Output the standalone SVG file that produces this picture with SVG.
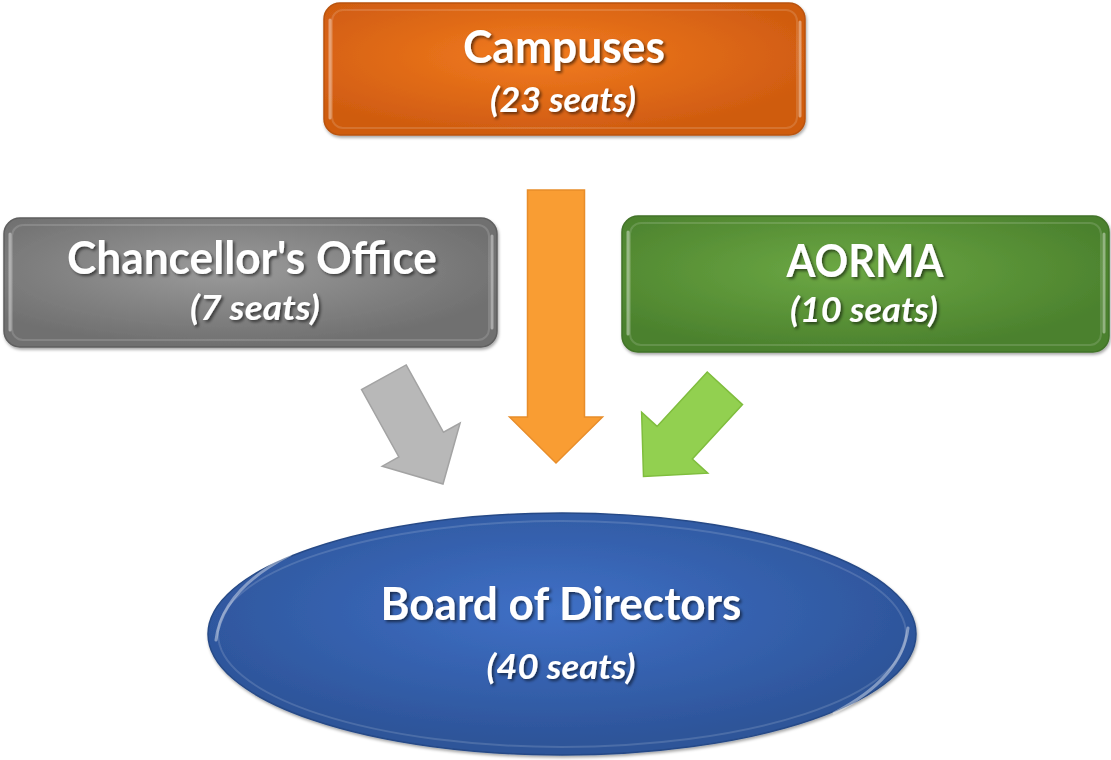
<svg xmlns="http://www.w3.org/2000/svg" width="1111" height="760" viewBox="0 0 1111 760">
<style>
.h{font-family:Lato,"Open Sans","Liberation Sans",sans-serif;font-weight:bold;font-size:46px;fill:#fff;text-anchor:middle;filter:url(#ts)}
.s{font-family:Lato,"Open Sans","Liberation Sans",sans-serif;font-weight:bold;font-style:italic;font-size:35px;fill:#fff;text-anchor:middle;filter:url(#ts)}
.bev{fill:none;stroke:#fff;stroke-opacity:0.14;stroke-width:2}
.hl{fill:none;stroke:#fff;stroke-opacity:0.4;stroke-width:3;stroke-linecap:round}
</style>
<defs>
<filter id="ts" x="-10%" y="-30%" width="120%" height="160%"><feDropShadow dx="2" dy="2" stdDeviation="1.5" flood-color="#000" flood-opacity="0.55"/></filter>
<filter id="bs" x="-5%" y="-5%" width="110%" height="115%"><feDropShadow dx="1" dy="2" stdDeviation="1.5" flood-color="#000" flood-opacity="0.35"/></filter>
<radialGradient id="gO" cx="45%" cy="40%" r="60%"><stop offset="0" stop-color="#f27b1f"/><stop offset="1" stop-color="#cf5b10"/></radialGradient>
<radialGradient id="gG" cx="45%" cy="40%" r="60%"><stop offset="0" stop-color="#9b9b9b"/><stop offset="1" stop-color="#6f6f6f"/></radialGradient>
<radialGradient id="gN" cx="45%" cy="40%" r="60%"><stop offset="0" stop-color="#6ca844"/><stop offset="1" stop-color="#4b812d"/></radialGradient>
<radialGradient id="gB" cx="48%" cy="40%" r="55%"><stop offset="0" stop-color="#3f70c6"/><stop offset="1" stop-color="#2d5499"/></radialGradient>
</defs>
<g id="connectors">
<polygon id="arrow-campuses" transform="translate(556,463) rotate(90)" points="-273,-28.5 -46,-28.5 -46,-46.5 0,0 -46,46.5 -46,28.5 -273,28.5" fill="#f99d33" stroke="#e88d2a" stroke-width="1.5"/>
<polygon id="arrow-chancellor" transform="translate(443,484) rotate(61)" points="-122,-25.5 -45,-25.5 -45,-44.5 0,0 -45,44.5 -45,25.5 -122,25.5" fill="#b8b8b8" stroke="#a3a3a3" stroke-width="1.5"/>
<polygon id="arrow-aorma" transform="translate(643.5,476.5) rotate(132.7)" points="-120,-24 -46,-24 -46,-45 0,0 -46,45 -46,24 -120,24" fill="#92d050" stroke="#7fbd3d" stroke-width="1.5"/>
</g>
<g id="campuses">
<rect x="324" y="3" width="481" height="132" rx="16" fill="url(#gO)" stroke="#b9530d" stroke-width="1.5" filter="url(#bs)"/>
<rect class="bev" x="332" y="10" width="465" height="118" rx="11"/>
<line class="hl" x1="330" y1="20" x2="330" y2="118"/>
<line class="hl" x1="800" y1="22" x2="800" y2="116"/>
<text class="h" x="564" y="63" textLength="202" lengthAdjust="spacingAndGlyphs">Campuses</text>
<text class="s" x="563" y="112" textLength="146" lengthAdjust="spacingAndGlyphs">(23 seats)</text>
</g>
<g id="chancellors-office">
<rect x="4" y="218" width="493" height="129" rx="16" fill="url(#gG)" stroke="#5f5f5f" stroke-width="1.5" filter="url(#bs)"/>
<rect class="bev" x="12" y="225" width="477" height="115" rx="11"/>
<line class="hl" x1="10" y1="234" x2="10" y2="330"/>
<line class="hl" x1="492" y1="236" x2="492" y2="328"/>
<text class="h" x="252" y="274" textLength="370" lengthAdjust="spacingAndGlyphs">Chancellor's Office</text>
<text class="s" x="255" y="320" textLength="130" lengthAdjust="spacingAndGlyphs">(7 seats)</text>
</g>
<g id="aorma">
<rect x="622" y="216" width="487" height="136" rx="16" fill="url(#gN)" stroke="#427329" stroke-width="1.5" filter="url(#bs)"/>
<rect class="bev" x="630" y="223" width="471" height="122" rx="11"/>
<line class="hl" x1="628" y1="232" x2="628" y2="334"/>
<line class="hl" x1="1104" y1="234" x2="1104" y2="332"/>
<text class="h" x="865" y="277" textLength="157" lengthAdjust="spacingAndGlyphs">AORMA</text>
<text class="s" x="864" y="322" textLength="148" lengthAdjust="spacingAndGlyphs">(10 seats)</text>
</g>
<g id="board-of-directors">
<ellipse cx="562" cy="634" rx="354" ry="121" fill="url(#gB)" stroke="#274a87" stroke-width="1.5" filter="url(#bs)"/>
<ellipse class="bev" cx="562" cy="634" rx="344" ry="113"/>
<path class="hl" d="M216,640 Q222,590 290,555"/>
<path class="hl" d="M908,628 Q902,678 834,713"/>
<text class="h" x="561" y="620" textLength="361" lengthAdjust="spacingAndGlyphs">Board of Directors</text>
<text class="s" x="561" y="679" textLength="149" lengthAdjust="spacingAndGlyphs">(40 seats)</text>
</g>
</svg>
